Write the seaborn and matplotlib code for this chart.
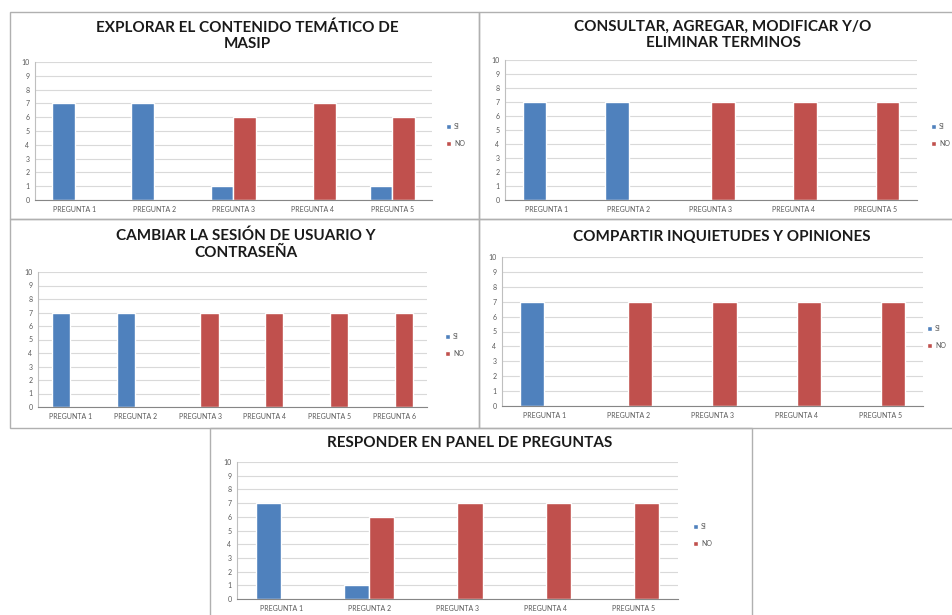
import matplotlib
matplotlib.use("Agg")
from matplotlib import pyplot as plt
from matplotlib.patches import Rectangle
import pandas as pd
import seaborn as sns

# data
titles = [
    "EXPLORAR EL CONTENIDO TEMÁTICO DE\nMASIP",
    "CONSULTAR, AGREGAR, MODIFICAR Y/O\nELIMINAR TERMINOS",
    "CAMBIAR LA SESIÓN DE USUARIO Y\nCONTRASEÑA",
    "COMPARTIR INQUIETUDES Y OPINIONES",
    "RESPONDER EN PANEL DE PREGUNTAS",
]
preguntas5 = ["PREGUNTA 1", "PREGUNTA 2", "PREGUNTA 3", "PREGUNTA 4", "PREGUNTA 5"]
preguntas6 = preguntas5 + ["PREGUNTA 6"]

si_1 = [7, 7, 1, 0, 1]
no_1 = [0, 0, 6, 7, 6]
si_2 = [7, 7, 0, 0, 0]
no_2 = [0, 0, 7, 7, 7]
si_3 = [7, 7, 0, 0, 0, 0]
no_3 = [0, 0, 7, 7, 7, 7]
si_4 = [7, 0, 0, 0, 0]
no_4 = [0, 7, 7, 7, 7]
si_5 = [7, 1, 0, 0, 0]
no_5 = [0, 6, 7, 7, 7]

W, H = 953, 615
sns.set_style("white")
plt.rcParams['font.family'] = ['Lato', 'DejaVu Sans']

fig = plt.figure(figsize=(W / 100, H / 100), dpi=100)


def fx(x):
    return x / W


def fy(y):
    return 1 - y / H


def box(x0, y0, x1, y1):
    fig.add_artist(Rectangle((fx(x0), fy(y1)), fx(x1) - fx(x0), fy(y0) - fy(y1),
                             transform=fig.transFigure, fill=False,
                             edgecolor="#b0b0b0", linewidth=1.0))


# panel frames
box(10, 12, 479, 219)
box(479, 12, 960, 219)
box(10, 219, 479, 428)
box(479, 219, 960, 428)
box(210, 428, 752, 620)

panels = [
    # (cats, si, no, axes px (l, t, r, b), title (x, y), legend (x, y))
    (preguntas5, si_1, no_1, (35, 62, 432, 200), (247, 20), (443, 135)),
    (preguntas5, si_2, no_2, (505, 60, 917, 200), (723, 20), (928, 135)),
    (preguntas6, si_3, no_3, (38, 272, 427, 407), (246, 229), (442, 345)),
    (preguntas5, si_4, no_4, (502, 257, 923, 406), (722, 230), (924, 337)),
    (preguntas5, si_5, no_5, (237, 462, 678, 599), (470, 436), (690, 535)),
]

for title, (cats, si, no, (l, t, r, b), (tx, ty), (lx, ly)) in zip(titles, panels):
    df = pd.DataFrame({
        "pregunta": cats * 2,
        "valor": si + no,
        "serie": ["SI"] * len(cats) + ["NO"] * len(cats),
    })
    ax = fig.add_axes([fx(l), fy(b), fx(r) - fx(l), fy(t) - fy(b)])
    sns.barplot(data=df, x="pregunta", y="valor", hue="serie",
                palette={"SI": "#4f81bd", "NO": "#c0504d"}, saturation=1,
                width=2 / 3.5, gap=0, ax=ax, errorbar=None)
    ax.set_ylim(0, 10)
    ax.set_xlim(-0.5, len(cats) - 0.5)
    ax.set_yticks(range(0, 11))
    ax.yaxis.grid(True, color="#d9d9d9", linewidth=0.8)
    ax.set_axisbelow(True)
    ax.set_xlabel("")
    ax.set_ylabel("")
    ax.tick_params(axis="both", labelsize=5, colors="#595959", length=0, pad=4)
    ax.set_xticks([i - 0.5 for i in range(len(cats) + 1)], minor=True)
    ax.tick_params(axis="x", which="minor", length=3, color="#868686", direction="out")
    for s in ["top", "right"]:
        ax.spines[s].set_visible(False)
    ax.spines["left"].set_color("#bfbfbf")
    ax.spines["bottom"].set_color("#868686")
    ax.spines["left"].set_linewidth(0.8)
    ax.spines["bottom"].set_linewidth(0.8)

    ax.legend(loc="center left", bbox_to_anchor=(fx(lx), fy(ly)),
              bbox_transform=fig.transFigure, frameon=False, fontsize=5,
              handlelength=0.8, handleheight=0.8, handletextpad=0.4,
              labelspacing=1.4, borderaxespad=0, labelcolor="#595959")

    fig.text(fx(tx), fy(ty), title, ha="center", va="top", fontsize=11,
             fontweight="bold", color="#1a1a1a", linespacing=1.2)

fig.savefig("out.png", dpi=100)
